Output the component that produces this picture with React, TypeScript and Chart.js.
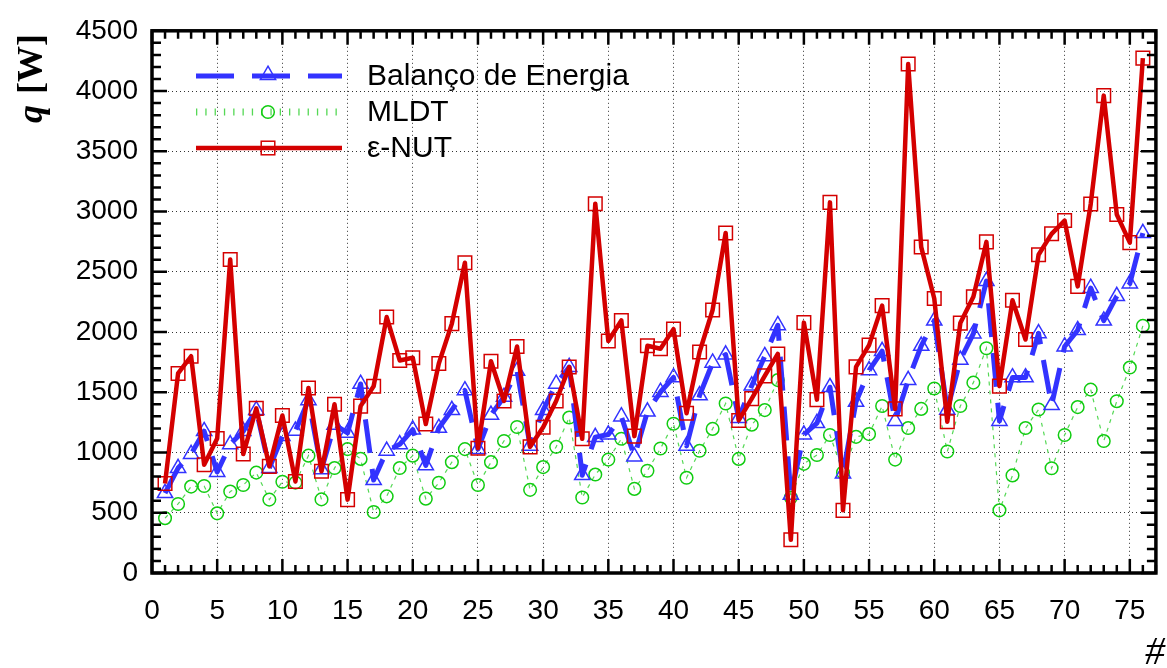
import React, { useEffect, useRef } from "react";
import { Chart, registerables } from "chart.js";

Chart.register(...registerables);

// ---- data ----
const pointIndex: number[] = Array.from({ length: 76 }, (_, i) => i + 1);

const balancoEnergia: number[] = [
  663, 871, 987, 1177, 838, 1068, 1177, 1352, 871, 1136,
  1180, 1433, 860, 1230, 1163, 1569, 771, 1014, 1068, 1190,
  893, 1204, 1352, 1515, 1028, 1312, 1461, 1677, 1055, 1352,
  1569, 1709, 812, 1128, 1149, 1299, 966, 1339, 1502, 1623,
  1055, 1474, 1745, 1812, 1285, 1555, 1799, 2056, 649, 1149,
  1244, 1542, 825, 1420, 1682, 1842, 1261, 1601, 1885, 2094,
  1354, 1769, 1987, 2423, 1261, 1623, 1623, 1989, 1393, 1880,
  2015, 2365, 2094, 2298, 2402, 2821,
];

const mldt: number[] = [
  455, 573, 717, 722, 495, 676, 730, 833, 609, 757,
  750, 974, 611, 871, 1028, 947, 506, 636, 871, 974,
  617, 749, 920, 1028, 730, 920, 1096, 1212, 690, 879,
  1047, 1290, 627, 817, 941, 1114, 698, 849, 1033, 1239,
  790, 1014, 1196, 1407, 947, 1231, 1352, 1601, 627, 906,
  979, 1145, 834, 1130, 1153, 1386, 941, 1203, 1362, 1531,
  1008, 1386, 1580, 1865, 520, 810, 1203, 1357, 869, 1145,
  1377, 1522, 1095, 1426, 1705, 2051,
];

const epsNut: number[] = [
  743, 1656, 1799, 898, 1117, 2602, 987, 1366, 885, 1307,
  760, 1536, 844, 1401, 609, 1385, 1550, 2124, 1764, 1786,
  1236, 1739, 2070, 2575, 1036, 1758, 1428, 1880, 1047, 1209,
  1428, 1709, 1114, 3065, 1926, 2096, 1136, 1886, 1861, 2024,
  1326, 1834, 2183, 2822, 1266, 1447, 1636, 1818, 276, 2078,
  1439, 3076, 520, 1711, 1891, 2219, 1362, 4224, 2705, 2278,
  1255, 2074, 2292, 2748, 1551, 2263, 1938, 2641, 2815, 2925,
  2379, 3062, 3962, 2975, 2742, 4273,
];

const seriesLabels: string[] = ["Balanço de Energia", "MLDT", "ε-NUT"];
const yTitleMain = "q";
const yTitleUnit = "[W]";
const xTitle = "#";

const BLUE = "#3333ff";
const GREEN = "#11cc11";
const GREEN_LINE = "#55d855";
const RED = "#d40000";
const BLUE_DASH = [34, 16];
const GREEN_DASH = [4, 5];

const X_MIN = 0;
const X_MAX = 77;
const Y_MIN = 0;
const Y_MAX = 4500;

const TRI_R = 8.8;
const CIRC_R = 6.3;
const SQ_R = 9.6;

function drawTriangle(ctx: CanvasRenderingContext2D, x: number, y: number, r: number) {
  const c = Math.cos(Math.PI / 6) * r;
  ctx.beginPath();
  ctx.moveTo(x, y - r);
  ctx.lineTo(x + c, y + r / 2);
  ctx.lineTo(x - c, y + r / 2);
  ctx.closePath();
  ctx.stroke();
}

const framePlugin = {
  id: "frameTicks",
  afterDatasetsDraw(chart: any) {
    const { ctx, chartArea: a, scales } = chart;
    const x = scales.x;
    const y = scales.y;
    ctx.save();
    ctx.strokeStyle = "#000";
    ctx.lineWidth = 2.5;
    ctx.setLineDash([]);
    ctx.beginPath();
    for (let v = X_MIN; v <= X_MAX; v++) {
      const px = x.getPixelForValue(v);
      const len = v % 5 === 0 ? 14 : 8;
      ctx.moveTo(px, a.bottom);
      ctx.lineTo(px, a.bottom - len);
      ctx.moveTo(px, a.top);
      ctx.lineTo(px, a.top + len);
    }
    for (let v = Y_MIN; v <= Y_MAX; v += 100) {
      const py = y.getPixelForValue(v);
      const len = v % 500 === 0 ? 15 : 9;
      ctx.moveTo(a.left, py);
      ctx.lineTo(a.left + len, py);
      ctx.moveTo(a.right, py);
      ctx.lineTo(a.right - len, py);
    }
    ctx.stroke();
    ctx.lineWidth = 3.5;
    ctx.strokeRect(a.left, a.top, a.right - a.left, a.bottom - a.top);
    ctx.restore();
  },
};

const legendPlugin = {
  id: "customLegend",
  afterDatasetsDraw(chart: any) {
    const { ctx } = chart;
    const x0 = 196;
    const x1 = 342;
    const xm = 268;
    const tx = 367;
    const rows = [76, 112, 148];
    ctx.save();
    // Blue
    ctx.strokeStyle = BLUE;
    ctx.lineWidth = 5;
    ctx.setLineDash([38, 18]);
    ctx.beginPath();
    ctx.moveTo(x0, rows[0]);
    ctx.lineTo(x1, rows[0]);
    ctx.stroke();
    ctx.setLineDash([]);
    ctx.lineWidth = 1.5;
    drawTriangle(ctx, xm, rows[0] - 1, TRI_R);
    // Green
    ctx.strokeStyle = GREEN_LINE;
    ctx.lineWidth = 7;
    ctx.setLineDash([1.3, 8]);
    ctx.beginPath();
    ctx.moveTo(x0, rows[1]);
    ctx.lineTo(x1, rows[1]);
    ctx.stroke();
    ctx.setLineDash([]);
    ctx.strokeStyle = GREEN;
    ctx.lineWidth = 1.5;
    ctx.beginPath();
    ctx.arc(xm, rows[1], CIRC_R, 0, Math.PI * 2);
    ctx.stroke();
    // Red
    ctx.strokeStyle = RED;
    ctx.lineWidth = 4.5;
    ctx.beginPath();
    ctx.moveTo(x0, rows[2]);
    ctx.lineTo(x1, rows[2]);
    ctx.stroke();
    ctx.lineWidth = 1.5;
    const s = SQ_R * Math.SQRT1_2;
    ctx.strokeRect(xm - s, rows[2] - s, 2 * s, 2 * s);
    // Texts
    ctx.fillStyle = "#000";
    ctx.font = "30px 'Liberation Sans', Arial, sans-serif";
    ctx.textBaseline = "middle";
    ctx.textAlign = "left";
    seriesLabels.forEach((t, i) => ctx.fillText(t, tx, rows[i] + 1));
    ctx.restore();
  },
};

const titlesPlugin = {
  id: "axisTitles",
  afterDraw(chart: any) {
    const { ctx } = chart;
    ctx.save();
    ctx.fillStyle = "#000";
    ctx.translate(42, 123);
    ctx.rotate(-Math.PI / 2);
    ctx.textBaseline = "alphabetic";
    ctx.textAlign = "left";
    ctx.font = "italic bold 36px 'Liberation Serif', 'Times New Roman', serif";
    ctx.fillText(yTitleMain, 0, 0);
    const w1 = ctx.measureText(yTitleMain + " ").width;
    ctx.font = "bold 36px 'Liberation Serif', 'Times New Roman', serif";
    ctx.fillText(yTitleUnit, w1 + 2, 0);
    ctx.restore();
    ctx.save();
    ctx.fillStyle = "#000";
    ctx.font = "italic 40px 'Liberation Serif', 'Times New Roman', serif";
    ctx.textAlign = "right";
    ctx.textBaseline = "alphabetic";
    ctx.fillText(xTitle, 1165, 664);
    ctx.restore();
  },
};

export default function App() {
  const canvasRef = useRef<HTMLCanvasElement | null>(null);

  useEffect(() => {
    if (!canvasRef.current) return;
    const tickFont = { family: "'Liberation Sans', Arial, sans-serif", size: 28 };
    const chart = new Chart(canvasRef.current, {
      type: "line",
      data: {
        datasets: [
          {
            label: seriesLabels[2],
            data: pointIndex.map((x, i) => ({ x, y: epsNut[i] })),
            borderColor: RED,
            borderWidth: 4.5,
            borderJoinStyle: "round",
            pointStyle: "rect",
            pointRadius: SQ_R,
            pointBorderWidth: 1.5,
            pointBorderColor: RED,
            pointBackgroundColor: "rgba(0,0,0,0)",
            tension: 0,
            order: 0,
          },
          {
            label: seriesLabels[0],
            data: pointIndex.map((x, i) => ({ x, y: balancoEnergia[i] })),
            borderColor: BLUE,
            borderWidth: 5,
            borderDash: BLUE_DASH,
            borderJoinStyle: "round",
            pointStyle: "triangle",
            pointRadius: TRI_R,
            pointBorderWidth: 1.5,
            pointBorderColor: BLUE,
            pointBackgroundColor: "rgba(0,0,0,0)",
            tension: 0,
            order: 1,
          },
          {
            label: seriesLabels[1],
            data: pointIndex.map((x, i) => ({ x, y: mldt[i] })),
            borderColor: GREEN_LINE,
            borderWidth: 1.2,
            borderDash: GREEN_DASH,
            pointStyle: "circle",
            pointRadius: CIRC_R,
            pointBorderWidth: 1.5,
            pointBorderColor: GREEN,
            pointBackgroundColor: "rgba(0,0,0,0)",
            tension: 0,
            order: 2,
          },
        ],
      },
      options: {
        responsive: false,
        animation: false,
        events: [],
        layout: { padding: { left: 0, right: 4, top: 19, bottom: 0 } },
        plugins: {
          legend: { display: false },
          tooltip: { enabled: false },
          title: { display: false },
        },
        scales: {
          x: {
            type: "linear",
            min: X_MIN,
            max: X_MAX,
            afterFit: (scale: any) => {
              scale.height = 95;
            },
            ticks: {
              stepSize: 5,
              includeBounds: false,
              color: "#000",
              font: tickFont,
              padding: 21,
              maxRotation: 0,
              autoSkip: false,
              callback: (v: any) => String(v),
            },
            grid: { color: "#333", lineWidth: 1, drawTicks: false },
            border: { display: false, dash: [1, 3] },
          },
          y: {
            type: "linear",
            min: Y_MIN,
            max: Y_MAX,
            afterFit: (scale: any) => {
              scale.width = 152;
            },
            ticks: {
              stepSize: 500,
              color: "#000",
              font: tickFont,
              padding: 14,
              autoSkip: false,
              callback: (v: any) => String(v),
            },
            grid: { color: "#333", lineWidth: 1, drawTicks: false },
            border: { display: false, dash: [1, 3] },
          },
        },
      },
      plugins: [framePlugin, legendPlugin, titlesPlugin],
    });
    return () => chart.destroy();
  }, []);

  return (
    <div style={{ position: "fixed", left: 0, top: 0, width: 1167, height: 668, background: "#fff" }}>
      <canvas ref={canvasRef} width={1167} height={668} />
    </div>
  );
}
